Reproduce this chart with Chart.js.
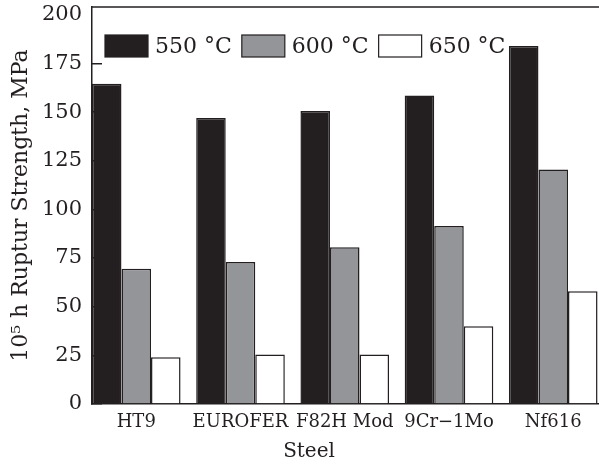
<!DOCTYPE html>
<html>
<head>
<meta charset="utf-8">
<script src="https://cdn.jsdelivr.net/npm/chart.js@4/dist/chart.umd.min.js"></script>
<style>
  html, body { margin: 0; padding: 0; background: #fff; }
  #wrap { width: 599px; height: 464px; }
</style>
</head>
<body>
<div id="wrap"><canvas id="chart" width="599" height="464"></canvas></div>
<script>
const steels = ['HT9', 'EUROFER', 'F82H Mod', '9Cr\u22121Mo', 'Nf616'];
const seriesNames = ['550 \u00B0C', '600 \u00B0C', '650 \u00B0C'];
const rupture550 = [164.5, 147, 150.5, 158.5, 184];
const rupture600 = [69.5, 73, 80.5, 91.5, 120.5];
const rupture650 = [24, 25.5, 25.5, 40, 58];
const yTicks = [0, 25, 50, 75, 100, 125, 150, 175, 200];

const ink = '#231f20';
const serif = "'DejaVu Serif', serif";

function points(vals) {
    return steels.map((s, i) => ({ x: i, y: vals[i] }));
}

// legend sits inside the plot, so draw it by hand from the datasets
const insideLegend = {
    id: 'insideLegend',
    afterDatasetsDraw(chart) {
        const ctx = chart.ctx;
        const area = chart.chartArea;
        // frame line along the top of the plot
        ctx.save();
        ctx.strokeStyle = ink;
        ctx.lineWidth = 1.5;
        ctx.beginPath();
        ctx.moveTo(area.left, area.top);
        ctx.lineTo(area.right, area.top);
        ctx.stroke();

        ctx.font = '22px ' + serif;
        ctx.textBaseline = 'middle';
        ctx.fillStyle = ink;
        let x = area.left + 13;
        const y = area.top + 28;
        chart.data.datasets.forEach(ds => {
            ctx.fillStyle = ds.backgroundColor;
            ctx.fillRect(x, y, 43, 22);
            ctx.lineWidth = 1.2;
            ctx.strokeStyle = ink;
            ctx.strokeRect(x, y, 43, 22);
            ctx.fillStyle = ink;
            ctx.fillText(ds.label, x + 50, y + 12);
            x += 50 + ctx.measureText(ds.label).width + 10;
        });
        ctx.restore();
    }
};

new Chart(document.getElementById('chart'), {
    type: 'bar',
    data: {
        datasets: [
            { label: seriesNames[0], data: points(rupture550), backgroundColor: ink, borderColor: ink, borderWidth: 1.5 },
            { label: seriesNames[1], data: points(rupture600), backgroundColor: '#939598', borderColor: ink, borderWidth: 1.5 },
            { label: seriesNames[2], data: points(rupture650), backgroundColor: '#ffffff', borderColor: ink, borderWidth: 1.5 }
        ]
    },
    options: {
        responsive: false,
        animation: false,
        categoryPercentage: 0.85,
        barPercentage: 1.0,
        layout: { padding: { top: 7, right: 0, left: 0, bottom: 0 } },
        plugins: {
            legend: { display: false },
            tooltip: { enabled: false },
            title: {
                display: true,
                text: '   Steel',
                position: 'bottom',
                color: ink,
                font: { family: serif, size: 20, weight: 'normal' },
                padding: { top: 0, bottom: 0 }
            }
        },
        scales: {
            x: {
                type: 'linear',
                offset: false,
                min: -0.4245,
                max: 4.439,
                bounds: 'data',
                afterBuildTicks: scale => {
                    scale.ticks = steels.map((s, i) => ({ value: i }));
                },
                afterFit: scale => {
                    scale.height = 36;
                    scale.paddingLeft = 0;
                    scale.paddingRight = 0;
                },
                ticks: {
                    callback: v => steels[v],
                    color: ink,
                    font: { family: serif, size: 18 },
                    padding: 8,
                    maxRotation: 0,
                    autoSkip: false
                },
                grid: { display: true, offset: false, drawOnChartArea: false, drawTicks: false },
                border: { display: true, color: ink, width: 1.5 }
            },
            y: {
                min: 0,
                max: 204,
                afterBuildTicks: scale => {
                    scale.ticks = yTicks.map(v => ({ value: v }));
                },
                afterFit: scale => {
                    scale.width = 92;
                    scale.paddingTop = 0;
                    scale.paddingBottom = 0;
                },
                ticks: {
                    includeBounds: false,
                    color: ink,
                    font: { family: serif, size: 21 },
                    padding: 20
                },
                grid: {
                    drawOnChartArea: false,
                    tickLength: -10,
                    lineWidth: 1.5,
                    tickColor: c => (c.tick && c.tick.value === 200 ? 'rgba(0,0,0,0)' : ink)
                },
                border: { display: true, color: ink, width: 1.5 },
                title: {
                    display: true,
                    text: '10\u2075 h Ruptur Strength, MPa',
                    color: ink,
                    font: { family: serif, size: 22, weight: 'normal' },
                    padding: { top: 8, bottom: 0 }
                }
            }
        }
    },
    plugins: [insideLegend]
});
</script>
</body>
</html>
